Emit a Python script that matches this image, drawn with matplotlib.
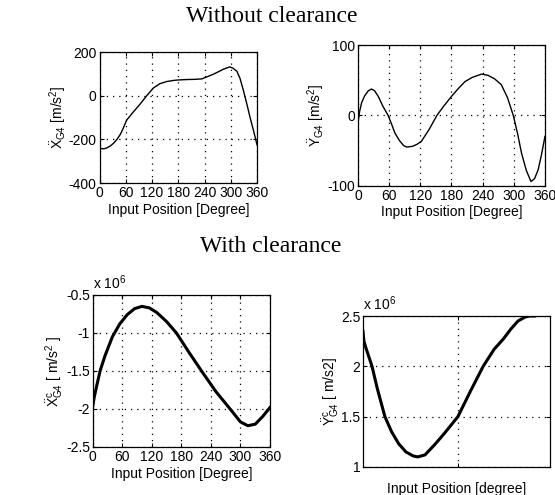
import matplotlib
matplotlib.use("Agg")
import matplotlib.pyplot as plt
from matplotlib.ticker import FuncFormatter

# ---- data ----
# Without clearance: X acceleration [m/s^2]
x_tl = [0, 10, 16, 25, 32, 40, 48, 54, 62, 75, 93, 108, 123, 138, 154, 170, 180, 200, 220, 234,
        245, 260, 272, 283, 292, 298, 305, 314, 321, 329, 337, 344, 352, 360]
y_tl = [-242, -243, -240, -230, -218, -200, -176, -150, -112, -80, -38, 0, 35, 55, 65, 70, 72, 74, 75, 77,
        86, 98, 110, 121, 128, 132, 126, 112, 80, 23, -40, -99, -160, -225]

# Without clearance: Y acceleration [m/s^2]
x_tr = [0, 3, 7, 13, 20, 26, 32, 39, 48, 58, 65, 71, 80, 88, 94, 105, 114, 122, 137, 152, 165, 180,
        193, 206, 220, 238, 250, 263, 276, 288, 299, 307, 315, 324, 333, 340, 347, 353, 360]
y_tr = [-11, 5, 18, 28, 35, 37.5, 35, 27, 13, 0, -13, -25, -36, -43, -45, -44, -41, -37, -20, 0, 13, 27,
        38, 48, 54, 58.7, 57, 52, 43.6, 25, 0, -25, -54, -78, -94, -90, -77, -57, -30]

# With clearance: X acceleration [m/s^2]
x_bl = [0, 3, 8, 15, 25, 40, 55, 70, 85, 100, 115, 130, 150, 170, 195, 221, 250, 279, 300, 315,
        330, 345, 360]
y_bl = [-1.97e6, -1.85e6, -1.7e6, -1.5e6, -1.3e6, -1.05e6, -0.88e6, -0.76e6, -0.68e6, -0.65e6,
        -0.67e6, -0.73e6, -0.85e6, -1.0e6, -1.25e6, -1.5e6, -1.77e6, -2.0e6, -2.17e6, -2.22e6,
        -2.2e6, -2.1e6, -1.98e6]

# With clearance: Y acceleration [m/s^2]
x_br = [0, 2, 5, 19, 30, 46, 60, 75, 90, 105, 115, 130, 150, 170, 199, 225, 252, 275, 294, 310,
        325, 340, 350, 360]
y_br = [2.35e6, 2.25e6, 2.2e6, 2.0e6, 1.78e6, 1.5e6, 1.35e6, 1.23e6, 1.15e6, 1.11e6, 1.10e6, 1.12e6,
        1.22e6, 1.33e6, 1.5e6, 1.75e6, 2.0e6, 2.17e6, 2.27e6, 2.37e6, 2.45e6, 2.49e6, 2.5e6, 2.5e6]

deg_ticks = [0, 60, 120, 180, 240, 300, 360]
tl_yticks = [-400, -200, 0, 200]
tr_yticks = [-100, 0, 100]
bl_yticks = [-2.5e6, -2e6, -1.5e6, -1e6, -0.5e6]
br_yticks = [1e6, 1.5e6, 2e6, 2.5e6]

plt.rcParams['font.family'] = ['Liberation Sans', 'DejaVu Sans']
plt.rcParams['axes.unicode_minus'] = False
plt.rcParams['mathtext.fontset'] = 'custom'
plt.rcParams['mathtext.rm'] = 'Liberation Sans'
plt.rcParams['mathtext.it'] = 'Liberation Sans'
plt.rcParams['mathtext.bf'] = 'Liberation Sans'

fig = plt.figure(figsize=(5.55, 4.95), dpi=100)

FS = 10


def style(ax):
    ax.tick_params(direction='in', length=3, width=0.8, labelsize=FS, top=True, right=True, pad=2)
    ax.grid(True, linestyle=(0, (1, 4)), color='black', linewidth=0.9)
    for s in ax.spines.values():
        s.set_linewidth(0.9)


def millions(v, pos):
    return '%g' % (v / 1e6)


def plain(v, pos):
    return '%g' % v


# top-left
ax1 = fig.add_axes([0.1793, 0.6303, 0.2838, 0.2646])
ax1.plot(x_tl, y_tl, color='black', lw=1.0)
ax1.set_xlim(0, 360)
ax1.set_ylim(-400, 200)
ax1.set_xticks(deg_ticks)
ax1.set_yticks(tl_yticks)
ax1.yaxis.set_major_formatter(FuncFormatter(plain))
ax1.set_xlabel('Input Position [Degree]', fontsize=FS, labelpad=2)
ax1.set_ylabel(r'$\ddot{X}_{G4}$ [m/s$^2$]', fontsize=FS, labelpad=0)
style(ax1)

# top-right
ax2 = fig.add_axes([0.645, 0.6248, 0.3369, 0.2842])
ax2.plot(x_tr, y_tr, color='black', lw=1.0)
ax2.set_xlim(0, 360)
ax2.set_ylim(-100, 100)
ax2.set_xticks(deg_ticks)
ax2.set_yticks(tr_yticks)
ax2.yaxis.set_major_formatter(FuncFormatter(plain))
ax2.set_xlabel('Input Position [Degree]', fontsize=FS, labelpad=2)
ax2.set_ylabel(r'$\ddot{Y}_{G4}$ [m/s$^2$]', fontsize=FS, labelpad=0)
style(ax2)

# bottom-left
ax3 = fig.add_axes([0.167, 0.097, 0.3195, 0.3071])
ax3.plot(x_bl, y_bl, color='black', lw=2.2)
ax3.set_xlim(0, 360)
ax3.set_ylim(-2.5e6, -0.5e6)
ax3.set_xticks(deg_ticks)
ax3.set_yticks(bl_yticks)
ax3.yaxis.set_major_formatter(FuncFormatter(millions))
ax3.set_xlabel('Input Position [Degree]', fontsize=FS, labelpad=2)
ax3.set_ylabel(r'$\ddot{X}^{c}_{G4}$ [ m/s$^2$ ]', fontsize=FS, labelpad=0)
style(ax3)
ax3.text(0.0, 1.02, r'x 10$^6$', transform=ax3.transAxes, fontsize=FS, ha='left', va='bottom')

# bottom-right
ax4 = fig.add_axes([0.654, 0.0566, 0.3369, 0.305])
ax4.plot(x_br, y_br, color='black', lw=2.2)
ax4.set_xlim(0, 392)
ax4.set_ylim(1e6, 2.5e6)
ax4.set_xticks([200])
ax4.set_xticklabels([])
ax4.set_yticks(br_yticks)
ax4.yaxis.set_major_formatter(FuncFormatter(millions))
ax4.set_xlabel('Input Position [degree]', fontsize=FS, labelpad=9)
ax4.set_ylabel(r'$\ddot{Y}^{c}_{G4}$ [ m/s2]', fontsize=FS, labelpad=0)
style(ax4)
ax4.text(0.0, 1.02, r'x 10$^6$', transform=ax4.transAxes, fontsize=FS, ha='left', va='bottom')

fig.text(0.489, 1 - 17 / 495, 'Without clearance', ha='center', va='center',
         fontsize=17, family=['Liberation Serif', 'DejaVu Serif'])
fig.text(0.488, 1 - 247 / 495, 'With clearance', ha='center', va='center',
         fontsize=17, family=['Liberation Serif', 'DejaVu Serif'])

fig.savefig('out.png', dpi=100)
